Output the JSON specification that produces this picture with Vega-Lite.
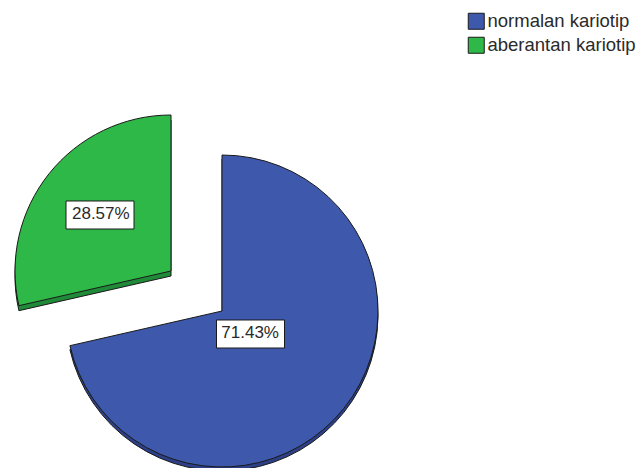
{
  "$schema": "https://vega.github.io/schema/vega-lite/v6.json",
  "autosize": "none",
  "width": 444,
  "height": 314,
  "padding": {"left": 0, "top": 154, "right": 192, "bottom": 0},
  "background": "white",
  "data": {"values": [
    {"category": "normalan kariotip", "value": 0.7143},
    {"category": "aberantan kariotip", "value": 0.2857}
  ]},
  "encoding": {
    "theta": {"field": "value", "type": "quantitative", "stack": true},
    "order": {"field": "value", "type": "quantitative", "sort": "descending"}
  },
  "layer": [
    {
      "mark": {"type": "arc", "outerRadius": 156, "yOffset": 4, "stroke": "#1a1a1a", "strokeWidth": 1},
      "encoding": {
        "color": {"value": "#2c3f87"},
        "opacity": {"condition": {"test": "datum.category == 'normalan kariotip'", "value": 1}, "value": 0}
      }
    },
    {
      "mark": {"type": "arc", "outerRadius": 156, "xOffset": -51, "yOffset": -35, "stroke": "#1a1a1a", "strokeWidth": 1},
      "encoding": {
        "color": {"value": "#1f8a38"},
        "opacity": {"condition": {"test": "datum.category == 'aberantan kariotip'", "value": 1}, "value": 0}
      }
    },
    {
      "mark": {"type": "arc", "outerRadius": 156, "stroke": "#1a1a1a", "strokeWidth": 1},
      "encoding": {
        "color": {
          "field": "category", "type": "nominal",
          "scale": {"domain": ["normalan kariotip", "aberantan kariotip"], "range": ["#3e58ac", "#2eb848"]},
          "legend": {
            "title": null, "orient": "none", "legendX": 467, "legendY": -142,
            "symbolType": "square", "symbolSize": 256, "symbolStrokeColor": "#1a1a1a", "symbolStrokeWidth": 1,
            "labelFont": "Liberation Sans", "labelFontSize": 18.5, "labelColor": "#2a2a2a", "labelOffset": 2,
            "rowPadding": 3, "padding": 0
          }
        },
        "opacity": {"condition": {"test": "datum.category == 'normalan kariotip'", "value": 1}, "value": 0}
      }
    },
    {
      "mark": {"type": "arc", "outerRadius": 156, "xOffset": -51, "yOffset": -40, "stroke": "#1a1a1a", "strokeWidth": 1},
      "encoding": {
        "color": {"field": "category", "type": "nominal"},
        "opacity": {"condition": {"test": "datum.category == 'aberantan kariotip'", "value": 1}, "value": 0}
      }
    },
    {
      "transform": [{"filter": "datum.category == 'normalan kariotip'"}],
      "mark": {"type": "point", "shape": "M-1,-0.4118H1V0.4118H-1Z", "size": 4624, "filled": true, "fill": "white", "stroke": "#1a1a1a", "strokeWidth": 1, "opacity": 1, "xOffset": 28.5, "yOffset": 23},
      "encoding": {"theta": null, "order": null}
    },
    {
      "transform": [{"filter": "datum.category == 'aberantan kariotip'"}],
      "mark": {"type": "point", "shape": "M-1,-0.4118H1V0.4118H-1Z", "size": 4624, "filled": true, "fill": "white", "stroke": "#1a1a1a", "strokeWidth": 1, "opacity": 1, "xOffset": -122, "yOffset": -96},
      "encoding": {"theta": null, "order": null}
    },
    {
      "mark": {"type": "text", "radius": 36, "font": "Liberation Sans", "fontSize": 17, "color": "#2a2a2a", "baseline": "middle", "align": "center"},
      "encoding": {
        "text": {"condition": {"test": "datum.category == 'normalan kariotip'", "field": "value", "type": "quantitative", "format": ".2%"}, "value": ""}
      }
    },
    {
      "mark": {"type": "text", "radius": 155, "font": "Liberation Sans", "fontSize": 17, "color": "#2a2a2a", "baseline": "middle", "align": "center"},
      "encoding": {
        "text": {"condition": {"test": "datum.category == 'aberantan kariotip'", "field": "value", "type": "quantitative", "format": ".2%"}, "value": ""}
      }
    }
  ],
  "config": {"view": {"stroke": null}}
}
